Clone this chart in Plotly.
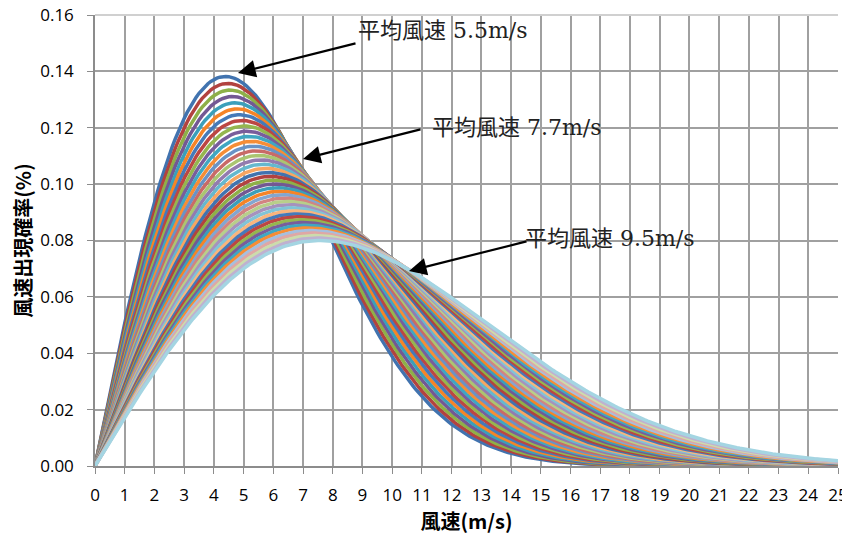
import colorsys
import numpy as np
import plotly.graph_objects as go

mean_speeds = [5.5, 5.6, 5.7, 5.8, 5.9, 6.0, 6.1, 6.2, 6.3, 6.4,
               6.5, 6.6, 6.7, 6.8, 6.9, 7.0, 7.1, 7.2, 7.3, 7.4,
               7.5, 7.6, 7.7, 7.8, 7.9, 8.0, 8.1, 8.2, 8.3, 8.4,
               8.5, 8.6, 8.7, 8.8, 8.9, 9.0, 9.1, 9.2, 9.3, 9.4, 9.5]
wind_speed = np.linspace(0, 25, 251)  # x axis, m/s
x_ticks = list(range(0, 26))
y_ticks = [0.00, 0.02, 0.04, 0.06, 0.08, 0.10, 0.12, 0.14, 0.16]
labels = ["平均風速 5.5m/s", "平均風速 7.7m/s", "平均風速 9.5m/s"]

# Excel 2007 accent palette and variations
accents = ["#4F81BD", "#C0504D", "#9BBB59", "#8064A2", "#4BACC6", "#F79646"]
mods = [(0.9, 0.0), (0.95, 0.0), (0.85, 0.15), (0.9, 0.0), (0.7, 0.3), (0.95, 0.0), (0.5, 0.5)]


def vary(hexc, mod, off):
    r, g, b = (int(hexc[i:i + 2], 16) / 255 for i in (1, 3, 5))
    h, l, s = colorsys.rgb_to_hls(r, g, b)
    l = min(1.0, l * mod + off)
    r, g, b = colorsys.hls_to_rgb(h, l, s)
    return "#%02x%02x%02x" % (int(r * 255), int(g * 255), int(b * 255))


def rayleigh(v, vm):
    return np.pi * v / (2 * vm ** 2) * np.exp(-np.pi * v ** 2 / (4 * vm ** 2))


fig = go.Figure()
for i, vm in enumerate(mean_speeds):
    m, o = mods[i // 6]
    col = vary(accents[i % 6], m, o)
    fig.add_trace(go.Scatter(x=wind_speed, y=rayleigh(wind_speed, vm), mode="lines",
                             line=dict(color=col, width=3.5), showlegend=False,
                             hoverinfo="skip"))

# page offset of 8px (body margin) -> figure is 842x530
OFF = 8
PL, PR, PT, PB = 95, 838, 15, 466  # plot area in page pixels
W, H = 850 - OFF, 538 - OFF
L, T = PL - OFF, PT - OFF
R, B = W - (PR - OFF), H - (PB - OFF)


def px2d(px, py):
    return (px - PL) / (PR - PL) * 25, (PB - py) / (PB - PT) * 0.16


arrows = [((238, 73), (357, 43)), ((303, 159), (422, 129)), ((409, 271), (528, 241))]
texts = [(356, 30), (430, 127), (523, 238)]
annos = []
for (head, tail), (tx, ty), lab in zip(arrows, texts, labels):
    hx, hy = px2d(*head)
    ax, ay = px2d(*tail)
    annos.append(dict(x=hx, y=hy, ax=ax, ay=ay, xref="x", yref="y", axref="x", ayref="y",
                      text="", showarrow=True, arrowhead=2, arrowsize=1.6, arrowwidth=2.2,
                      arrowcolor="black", standoff=0))
    dx, dy = px2d(tx, ty)
    annos.append(dict(x=dx, y=dy, xref="x", yref="y", text=lab, showarrow=False,
                      xanchor="left", yanchor="middle",
                      font=dict(family="DejaVu Serif, Noto Sans CJK JP", size=22, color="#222")))

tick_font = dict(family="Open Sans", size=17, color="black")
title_font = dict(family="Noto Sans CJK JP", size=20, color="black")

fig.update_layout(
    width=W, height=H,
    margin=dict(l=L, r=R, t=T, b=B),
    paper_bgcolor="white", plot_bgcolor="white",
    font=dict(family="Open Sans, Noto Sans CJK JP", size=17, color="black"),
    xaxis=dict(range=[0, 25], tickvals=x_ticks, ticktext=[str(t) for t in x_ticks],
               tickfont=tick_font, ticklabelstandoff=7, automargin=False,
               ticklabeloverflow="allow",
               showgrid=True, gridcolor="#A0A0A0", gridwidth=1.5,
               showline=True, linecolor="#8C8C8C", linewidth=1.5,
               ticks="outside", ticklen=6, tickcolor="#8C8C8C", zeroline=False,
               title=dict(text="<b>風速(m/s)</b>", font=title_font, standoff=6)),
    yaxis=dict(range=[0, 0.16], tickvals=y_ticks, tickformat=".2f",
               tickfont=tick_font, ticklabelstandoff=10, automargin=False,
               ticklabeloverflow="allow",
               showgrid=True, gridcolor="#A0A0A0", gridwidth=1.5,
               showline=True, linecolor="#8C8C8C", linewidth=1.5,
               ticks="outside", ticklen=6, tickcolor="#8C8C8C", zeroline=False,
               title=dict(text="<b>風速出現確率(%)</b>", font=title_font, standoff=10)),
    annotations=annos,
)
fig.add_shape(type="line", xref="paper", yref="paper", x0=0, x1=1, y0=1, y1=1,
              line=dict(color="#D0D0D0", width=2))
fig.write_html("out.html")
